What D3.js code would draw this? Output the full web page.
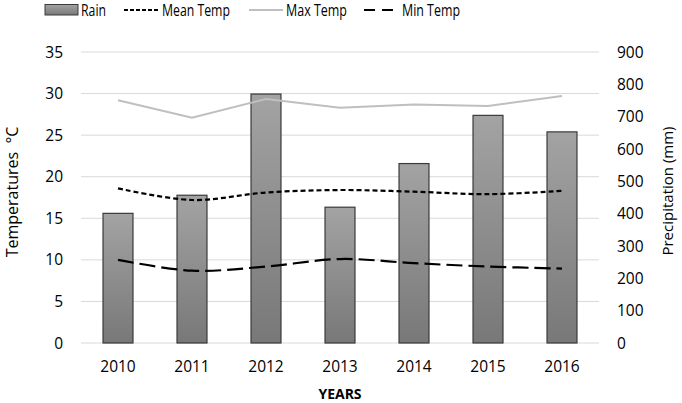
<!DOCTYPE html>
<html><head><meta charset="utf-8">
<script src="https://cdn.jsdelivr.net/npm/d3@7"></script>
<style>body{margin:0;background:#fff}text{font-family:"Open Sans",sans-serif;fill:#000}</style>
</head><body>
<svg id="c" width="682" height="403"></svg>
<script>
const years = ["2010","2011","2012","2013","2014","2015","2016"];
const rain = [401, 457, 770, 420, 555, 704, 653];
const meanTemp = [18.6, 17.2, 18.1, 18.4, 18.2, 17.9, 18.3];
const maxTemp = [29.2, 27.1, 29.35, 28.3, 28.7, 28.5, 29.7];
const minTemp = [10.0, 8.7, 9.2, 10.1, 9.6, 9.2, 8.95];
const tempTicks = [0,5,10,15,20,25,30,35];
const rainTicks = [0,100,200,300,400,500,600,700,800,900];

const svg = d3.select("#c");
const L=81, R=599, T=52, B=343;
const x = d3.scaleBand().domain(years).range([L,R]).paddingInner(0.595).paddingOuter(0.2975);
const yT = d3.scaleLinear().domain([0,35]).range([B,T]);
const yR = d3.scaleLinear().domain([0,900]).range([B,T]);

const defs = svg.append("defs");
const g = defs.append("linearGradient").attr("id","bg").attr("x1",0).attr("y1",0).attr("x2",0).attr("y2",1);
g.append("stop").attr("offset","0%").attr("stop-color","#a3a3a3");
g.append("stop").attr("offset","100%").attr("stop-color","#787878");

// gridlines
svg.append("g").selectAll("line").data(tempTicks).join("line")
  .attr("x1",L).attr("x2",R).attr("y1",d=>yT(d)).attr("y2",d=>yT(d))
  .attr("stroke","#d9d9d9").attr("stroke-width",1);

// left axis labels
svg.append("g").selectAll("text").data(tempTicks).join("text")
  .attr("x",63).attr("y",d=>yT(d)).attr("dy","0.36em").attr("text-anchor","end")
  .attr("font-size",15.5).text(d=>d);
// right axis labels
svg.append("g").selectAll("text").data(rainTicks).join("text")
  .attr("x",617).attr("y",d=>yR(d)).attr("dy","0.36em").attr("text-anchor","start")
  .attr("font-size",15.5).text(d=>d);
// x labels
svg.append("g").selectAll("text").data(years).join("text")
  .attr("x",d=>x(d)+x.bandwidth()/2).attr("y",366).attr("dy","0.36em").attr("text-anchor","middle")
  .attr("font-size",15.5).text(d=>d);

// bars
svg.append("g").selectAll("rect").data(rain).join("rect")
  .attr("x",(d,i)=>x(years[i])).attr("width",x.bandwidth())
  .attr("y",d=>yR(d)).attr("height",d=>B-yR(d))
  .attr("fill","url(#bg)").attr("stroke","#3a3a3a").attr("stroke-width",1.2);

const cx = (d,i)=>x(years[i])+x.bandwidth()/2;
const lineS = d3.line().x(cx).y(d=>yT(d)).curve(d3.curveCatmullRom.alpha(0.5));
const lineL = d3.line().x(cx).y(d=>yT(d));
svg.append("path").attr("d",lineL(maxTemp)).attr("fill","none").attr("stroke","#bfbfbf").attr("stroke-width",2);
svg.append("path").attr("d",lineS(meanTemp)).attr("fill","none").attr("stroke","#000").attr("stroke-width",2.2).attr("stroke-dasharray","5,3");
svg.append("path").attr("d",lineS(minTemp)).attr("fill","none").attr("stroke","#000").attr("stroke-width",2.2).attr("stroke-dasharray","16,6");

// axis titles
svg.append("text").attr("transform","translate(12,192) rotate(-90)").attr("text-anchor","middle").attr("dy","0.35em")
  .attr("font-size",16).style("white-space","pre").text("Temperatures  °C");
svg.append("text").attr("transform","translate(668,191) rotate(-90)").attr("text-anchor","middle").attr("dy","0.35em")
  .attr("font-size",15).text("Precipitation (mm)");
svg.append("text").attr("x",340).attr("y",394).attr("dy","0.35em").attr("text-anchor","middle")
  .attr("font-size",14).attr("font-weight","bold").text("YEARS");

// legend
const lg = svg.append("g");
const lt = (xx, w, s) => lg.append("text").attr("x",xx).attr("y",10).attr("dy","0.36em").attr("font-size",15.5)
  .attr("textLength",w).attr("lengthAdjust","spacingAndGlyphs").text(s);
lg.append("rect").attr("x",45).attr("y",4.5).attr("width",33).attr("height",10.5).attr("fill","url(#bg)").attr("stroke","#3a3a3a");
lt(81, 25, "Rain");
lg.append("line").attr("x1",124).attr("x2",158).attr("y1",10).attr("y2",10).attr("stroke","#000").attr("stroke-width",2).attr("stroke-dasharray","4,2");
lt(162, 68, "Mean Temp");
lg.append("line").attr("x1",249).attr("x2",283).attr("y1",10).attr("y2",10).attr("stroke","#bfbfbf").attr("stroke-width",2);
lt(286, 61, "Max Temp");
lg.append("line").attr("x1",364).attr("x2",393).attr("y1",10).attr("y2",10).attr("stroke","#000").attr("stroke-width",2.2).attr("stroke-dasharray","11,7");
lt(402, 58, "Min Temp");
</script>
</body></html>
